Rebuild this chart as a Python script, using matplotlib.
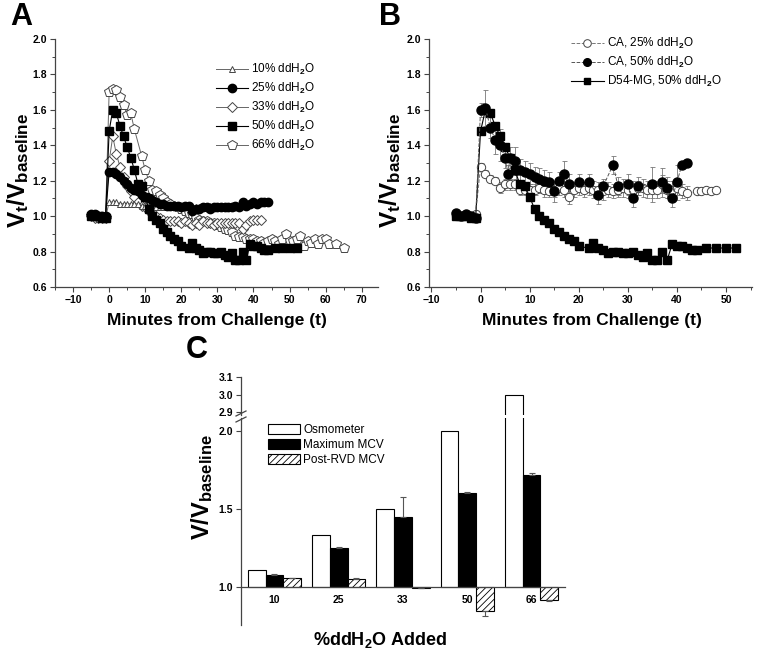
import matplotlib
matplotlib.use('Agg')
import matplotlib.pyplot as plt
from matplotlib.ticker import MultipleLocator
from matplotlib.lines import Line2D

plt.rcParams['font.family'] = ['Liberation Sans', 'DejaVu Sans']
plt.rcParams['font.weight'] = 'bold'
plt.rcParams['mathtext.fontset'] = 'custom'
plt.rcParams['mathtext.rm'] = 'Liberation Sans'
plt.rcParams['mathtext.it'] = 'Liberation Sans:italic'
plt.rcParams['mathtext.bf'] = 'Liberation Sans:bold'
plt.rcParams['hatch.linewidth'] = 0.6

# ---- panel A data (minutes, Vt/Vbaseline) ----
t10 = list(range(-5, 41))
v10 = [1.01, 1.00, 1.00, 0.99, 0.99,
       1.08, 1.08, 1.08, 1.07, 1.07, 1.07, 1.07, 1.07, 1.07, 1.06,
       1.06, 1.06, 1.05, 1.05, 1.05, 1.05, 1.05, 1.05, 1.05, 1.05,
       1.05, 1.05, 1.05, 1.05, 1.05, 1.05, 1.05, 1.06, 1.06, 1.06,
       1.06, 1.06, 1.06, 1.06, 1.06, 1.06, 1.06, 1.06, 1.06, 1.07,
       1.07]

t25 = list(range(-5, 45))
v25 = [1.01, 1.01, 1.00, 1.00, 1.00,
       1.25, 1.25, 1.24, 1.22, 1.20, 1.18, 1.16, 1.15, 1.14, 1.12,
       1.11, 1.10, 1.09, 1.08, 1.07, 1.07, 1.06, 1.06, 1.06, 1.06,
       1.05, 1.06, 1.06, 1.03, 1.04, 1.04, 1.05, 1.05, 1.04, 1.05,
       1.05, 1.05, 1.05, 1.05, 1.05, 1.06, 1.05, 1.08, 1.06, 1.07,
       1.08, 1.07, 1.08, 1.08, 1.08]

t33 = list(range(-5, 43))
v33 = [1.00, 0.99, 0.99, 0.99, 0.99,
       1.31, 1.45, 1.35, 1.28, 1.22, 1.17, 1.14, 1.11, 1.08, 1.06,
       1.05, 1.03, 1.01, 1.00, 0.99, 0.98, 0.97, 0.97, 0.97, 0.97,
       0.96, 0.97, 0.96, 0.95, 0.96, 0.95, 0.97, 0.96, 0.96, 0.95,
       0.96, 0.96, 0.96, 0.96, 0.96, 0.96, 0.96, 0.93, 0.95, 0.97,
       0.98, 0.98, 0.98]

# 50% ddH2O in D54-MG (shown in A and B)
t50 = list(range(-5, 21)) + list(range(22, 45)) + [46, 48, 50, 52]
v50 = [1.00, 1.00, 1.00, 0.99, 0.99,
       1.48, 1.60, 1.58, 1.51, 1.45, 1.39, 1.33, 1.26, 1.18, 1.17,
       1.11, 1.04, 1.00, 0.98, 0.96, 0.93, 0.91, 0.89, 0.87, 0.86,
       0.83,
       0.82, 0.85, 0.82, 0.81, 0.79, 0.80, 0.80, 0.79, 0.79, 0.80,
       0.78, 0.77, 0.79, 0.75, 0.75, 0.80, 0.75, 0.84, 0.83, 0.83,
       0.82, 0.81, 0.81,
       0.82, 0.82, 0.82, 0.82]

t66 = list(range(-5, 8)) + list(range(9, 62)) + [63, 65]
v66 = [1.00, 1.00, 0.99, 0.99, 0.99,
       1.70, 1.72, 1.71, 1.67, 1.63, 1.57, 1.58, 1.49,
       1.34, 1.26, 1.20, 1.15, 1.14, 1.12, 1.10, 1.08, 1.07, 1.06,
       1.05, 1.04, 1.03, 1.02, 1.01, 0.99, 0.98, 0.97, 0.97, 0.96,
       0.96, 0.95, 0.94, 0.93, 0.92, 0.91, 0.89, 0.88, 0.88, 0.87,
       0.87, 0.87, 0.86, 0.86, 0.85, 0.86, 0.87, 0.86, 0.84, 0.87,
       0.90, 0.86, 0.86, 0.87, 0.89, 0.83, 0.86, 0.85, 0.87, 0.84,
       0.87, 0.87, 0.84,
       0.84, 0.82]

# ---- panel B data ----
tca25 = list(range(-5, 43)) + [44, 45, 46, 47, 48]
vca25 = [1.00, 1.00, 1.00, 1.00, 1.01,
         1.28, 1.24, 1.21, 1.20, 1.16, 1.18, 1.18, 1.18, 1.15, 1.15,
         1.15, 1.15, 1.16, 1.15, 1.14, 1.15, 1.16, 1.15, 1.11, 1.15,
         1.16, 1.15, 1.16, 1.15, 1.15, 1.14, 1.15, 1.14, 1.15, 1.16,
         1.15, 1.15, 1.16, 1.16, 1.15, 1.15, 1.15, 1.18, 1.15, 1.15,
         1.16, 1.14, 1.13,
         1.14, 1.14, 1.15, 1.14, 1.15]
eca25 = [0.01, 0.01, 0.01, 0.01, 0.01,
         0.02, 0.02, 0.02, 0.02, 0.03, 0.03, 0.03, 0.03, 0.03, 0.03,
         0.03, 0.03, 0.03, 0.04, 0.03, 0.04, 0.04, 0.04, 0.04, 0.04,
         0.04, 0.04, 0.04, 0.05, 0.04, 0.05, 0.04, 0.04, 0.04, 0.05,
         0.05, 0.05, 0.04, 0.05, 0.05, 0.05, 0.05, 0.05, 0.05, 0.05,
         0.04, 0.04, 0.04,
         0.01, 0.01, 0.01, 0.01, 0.01]

tca50 = [-5, -4, -3, -2, -1, 0, 1, 2, 3, 4, 5, 5.6, 6, 7, 7.2,
         8, 9, 10, 11, 12, 13, 14, 15, 16, 17, 18,
         20, 22, 24, 25, 27, 28, 30, 31, 32, 35, 37, 38, 39, 40, 41, 42]
vca50 = [1.02, 1.00, 1.01, 1.00, 0.99,
         1.60, 1.61, 1.50, 1.43, 1.40, 1.33, 1.24, 1.33, 1.31, 1.26,
         1.26, 1.25, 1.24, 1.22, 1.21, 1.20, 1.19, 1.14, 1.20, 1.24, 1.18,
         1.19, 1.19, 1.12, 1.17, 1.29, 1.17, 1.18, 1.10, 1.17, 1.18, 1.19,
         1.16, 1.10, 1.19, 1.29, 1.30]
eca50 = [0.01, 0.01, 0.01, 0.01, 0.01,
         0.04, 0.10, 0.06, 0.08, 0.09, 0.06, 0.05, 0.06, 0.08, 0.06,
         0.06, 0.06, 0.06, 0.06, 0.06, 0.06, 0.06, 0.06, 0.05, 0.07, 0.06,
         0.05, 0.05, 0.05, 0.04, 0.05, 0.05, 0.06, 0.05, 0.05, 0.10, 0.08,
         0.06, 0.05, 0.10, 0.01, 0.01]

# ---- panel C data ----
groups = ['10', '25', '33', '50', '66']
osm = [1.11, 1.33, 1.50, 2.00, 3.00]
maxmcv = [1.075, 1.25, 1.447, 1.603, 1.718]
maxmcv_err = [0.005, 0.005, 0.13, 0.008, 0.015]
post = [1.056, 1.048, 0.995, 0.845, 0.915]
post_err = [0.004, 0.010, 0.003, 0.030, 0.006]

W, H = 760, 662
fig = plt.figure(figsize=(W / 100, H / 100), dpi=100)


def rect(x0, y0, x1, y1):
    return [x0 / W, 1 - y1 / H, (x1 - x0) / W, (y1 - y0) / H]


SPINE = '#444444'
TICK_FS = 7.5


def style_line_axes(ax, xlim, xmajor):
    ax.spines[['top', 'right']].set_visible(False)
    for s in ['left', 'bottom']:
        ax.spines[s].set_color(SPINE)
        ax.spines[s].set_linewidth(0.9)
    ax.set_xlim(*xlim)
    ax.set_ylim(0.6, 2.0)
    ax.xaxis.set_major_locator(MultipleLocator(xmajor))
    ax.xaxis.set_minor_locator(MultipleLocator(xmajor / 2))
    ax.yaxis.set_major_locator(MultipleLocator(0.2))
    ax.yaxis.set_minor_locator(MultipleLocator(0.1))
    ax.yaxis.set_major_formatter(lambda v, p: f'{v:.1f}')
    ax.tick_params(which='major', direction='out', length=3.5, width=0.8,
                   color=SPINE, labelsize=TICK_FS, pad=2)
    ax.tick_params(which='minor', direction='out', length=2, width=0.7,
                   color=SPINE)


open_kw = dict(mfc='white', mec='#444444', mew=0.7, color='#666666', lw=0.7)
fill_kw = dict(mfc='black', mec='black', color='black', lw=0.8)

# ---------------- Panel A ----------------
axA = fig.add_axes(rect(55, 39, 378, 287))
style_line_axes(axA, (-15, 74.5), 10)
axA.plot(t66, v66, marker='p', ms=7, label='66% ddH$_2$O', zorder=2, **open_kw)
axA.plot(t33, v33, marker='D', ms=5.5, label='33% ddH$_2$O', zorder=3, **open_kw)
axA.plot(t10, v10, marker='^', ms=5, label='10% ddH$_2$O', zorder=3, **open_kw)
axA.plot(t50, v50, marker='s', ms=6, label='50% ddH$_2$O', zorder=4, **fill_kw)
axA.plot(t25, v25, marker='o', ms=6, label='25% ddH$_2$O', zorder=4, **fill_kw)
hA, lA = axA.get_legend_handles_labels()
orderA = [2, 4, 1, 3, 0]
axA.legend([hA[i] for i in orderA], [lA[i] for i in orderA],
           loc='upper left', bbox_to_anchor=(0.48, 0.93), frameon=False,
           prop={'weight': 'normal', 'size': 8.5}, handlelength=2.7,
           handletextpad=0.25, labelspacing=0.33, borderpad=0,
           numpoints=1)

# ---------------- Panel B ----------------
axB = fig.add_axes(rect(429, 39, 752, 287))
style_line_axes(axB, (-10.5, 55.3), 10)
axB.errorbar(tca25, vca25, yerr=eca25, fmt='none', ecolor='#777777',
             elinewidth=0.6, capsize=1.8, capthick=0.6, zorder=1)
axB.errorbar(tca50, vca50, yerr=eca50, fmt='none', ecolor='#777777',
             elinewidth=0.6, capsize=1.8, capthick=0.6, zorder=1)
axB.plot(tca25, vca25, marker='o', ms=6, ls='--', mfc='white', mec='#444444',
         mew=0.7, color='#777777', lw=0.7, zorder=2)
axB.plot(t50, v50, marker='s', ms=6, zorder=3, **fill_kw)
axB.plot(tca50, vca50, marker='o', ms=6.5, ls='--', mfc='black', mec='black',
         color='#555555', lw=0.7, zorder=4)
hB = [Line2D([], [], marker='o', ms=5.5, ls='--', mfc='white', mec='#444444',
             mew=0.7, color='#777777', lw=0.7),
      Line2D([], [], marker='o', ms=5.5, ls='--', mfc='black', mec='black',
             color='#555555', lw=0.7),
      Line2D([], [], marker='s', ms=5, **fill_kw)]
axB.legend(hB, ['CA, 25% ddH$_2$O', 'CA, 50% ddH$_2$O',
                'D54-MG, 50% ddH$_2$O'],
           loc='upper left', bbox_to_anchor=(0.42, 1.035), frameon=False,
           prop={'weight': 'normal', 'size': 8.5}, handlelength=2.8,
           handletextpad=0.25, labelspacing=0.33, borderpad=0)

for ax_x, ax_cx in [(18, 217), (390, 592)]:
    fig.text(ax_x / W, 1 - 170 / H, r'V$_\mathbf{t}$/V$_\mathbf{baseline}$',
             rotation=90, ha='center', va='center', fontsize=17.5,
             fontweight='bold')
    fig.text(ax_cx / W, 1 - 321 / H, 'Minutes from Challenge (t)',
             ha='center', va='center', fontsize=12.5, fontweight='bold')

# ---------------- Panel C ----------------
axCt = fig.add_axes(rect(241, 377, 565, 415))
axC = fig.add_axes(rect(241, 418, 565, 625))
x = list(range(len(groups)))
w = 0.275
xo = [i - w for i in x]
xp = [i + w for i in x]

for ax in (axC, axCt):
    ax.bar(xo, [v - 1 for v in osm], w, bottom=1, color='white',
           edgecolor='black', lw=0.8, label='Osmometer')
    ax.set_xlim(-0.52, 4.52)

axC.bar(x, [v - 1 for v in maxmcv], w, bottom=1, color='black',
        edgecolor='black', lw=0.8, label='Maximum MCV')
axC.bar(xp, [v - 1 for v in post], w, bottom=1, color='white',
        edgecolor='black', lw=0.8, hatch='/////', label='Post-RVD MCV')
axC.errorbar(x, maxmcv, yerr=[[0] * 5, maxmcv_err], fmt='none',
             ecolor='#555555', elinewidth=0.8, capsize=2, capthick=0.8)
post_lo = [e if v < 1 else 0 for v, e in zip(post, post_err)]
post_hi = [e if v >= 1 else 0 for v, e in zip(post, post_err)]
axC.errorbar(xp, post, yerr=[post_lo, post_hi], fmt='none',
             ecolor='#555555', elinewidth=0.8, capsize=2, capthick=0.8)

axC.set_ylim(0.756, 2.083)
axC.set_yticks([1.0, 1.5, 2.0])
axC.yaxis.set_major_formatter(lambda v, p: f'{v:.1f}')
axC.set_xticks(x)
axC.set_xticklabels(groups)
axC.spines[['top', 'right']].set_visible(False)
axC.spines['bottom'].set_position(('data', 1.0))
for s in ['left', 'bottom']:
    axC.spines[s].set_color(SPINE)
    axC.spines[s].set_linewidth(0.9)
axC.tick_params(axis='y', direction='out', length=3.5, width=0.8, color=SPINE,
                labelsize=TICK_FS, pad=2)
axC.tick_params(axis='x', length=0, labelsize=TICK_FS, pad=6)

axCt.set_ylim(2.885, 3.1)
axCt.set_yticks([2.9, 3.0, 3.1])
axCt.yaxis.set_major_formatter(lambda v, p: f'{v:.1f}')
axCt.set_xticks([])
axCt.spines[['top', 'right', 'bottom']].set_visible(False)
axCt.spines['left'].set_color(SPINE)
axCt.spines['left'].set_linewidth(0.9)
axCt.tick_params(axis='y', direction='out', length=3.5, width=0.8,
                 color=SPINE, labelsize=TICK_FS, pad=2)

# axis break marks
for yb in (413.5, 419.5):
    fig.add_artist(Line2D([236 / W, 246 / W], [1 - (yb + 2.5) / H, 1 - (yb - 2.5) / H],
                          color=SPINE, lw=0.9))

hC, lC = axC.get_legend_handles_labels()
axC.legend(hC, lC, loc='upper left', bbox_to_anchor=(0.065, 1.0),
           frameon=False, prop={'weight': 'normal', 'size': 8.5},
           handlelength=2.7, handleheight=0.9, handletextpad=0.3,
           labelspacing=0.25, borderpad=0)

fig.text(202 / W, 1 - 487 / H, r'V/V$_\mathbf{baseline}$', rotation=90,
         ha='center', va='center', fontsize=17, fontweight='bold')
fig.text(380 / W, 1 - 640 / H, r'%ddH$_\mathbf{2}$O Added', ha='center',
         va='center', fontsize=13, fontweight='bold')

# panel letters
for letter, px, py in [('A', 21, 17), ('B', 390, 17), ('C', 197, 350)]:
    fig.text(px / W, 1 - py / H, letter, ha='center', va='center',
             fontsize=22, fontweight='bold')

fig.savefig('out.png', dpi=100)
